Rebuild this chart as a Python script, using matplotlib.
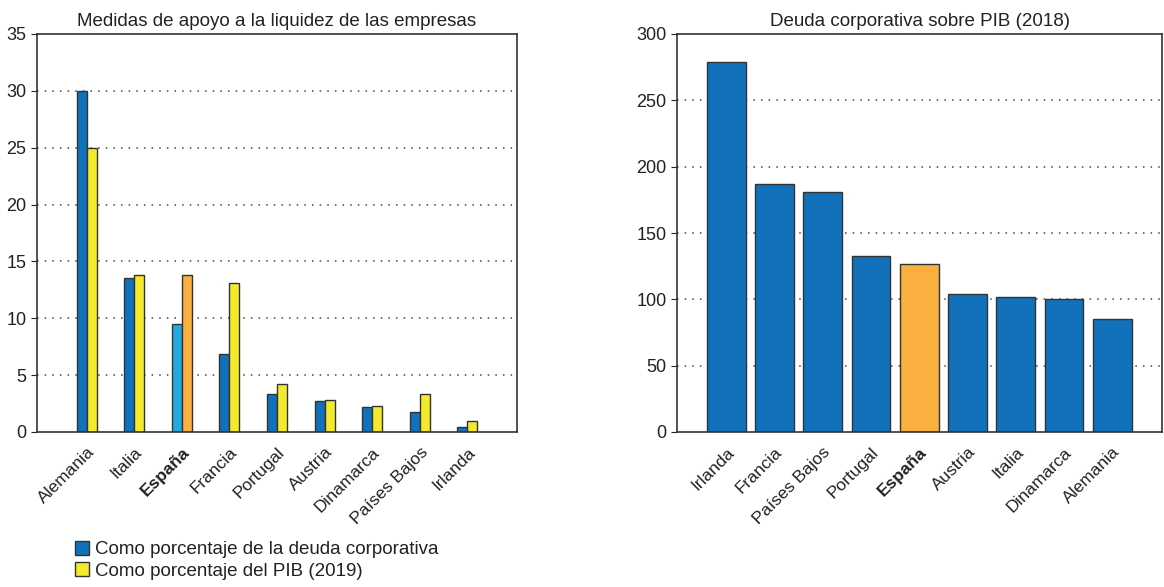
import numpy as np
import matplotlib.pyplot as plt
from matplotlib.patches import Patch

plt.rcParams['font.family'] = ['Liberation Sans', 'DejaVu Sans']

# liquidity support measures, % of corporate debt and % of GDP (2019)
paises_apoyo = ['Alemania', 'Italia', 'España', 'Francia', 'Portugal',
                'Austria', 'Dinamarca', 'Países Bajos', 'Irlanda']
pct_deuda = [30.0, 13.5, 9.5, 6.9, 3.3, 2.7, 2.2, 1.8, 0.4]
pct_pib = [25.0, 13.8, 13.8, 13.1, 4.2, 2.8, 2.3, 3.3, 1.0]

# corporate debt over GDP (2018)
paises_deuda = ['Irlanda', 'Francia', 'Países Bajos', 'Portugal', 'España',
                'Austria', 'Italia', 'Dinamarca', 'Alemania']
deuda_pib = [279, 187, 181, 133, 127, 104, 102, 100, 85]

azul = '#1172bb'
azul_claro = '#23a9e1'
amarillo = '#f3ea2d'
naranja = '#f9b041'
borde = '#333333'
texto = '#222222'

fig = plt.figure(figsize=(11.64, 5.87), dpi=100)
ax1 = fig.add_axes([37/1164, 1-432/587, 480/1164, 398/587])
ax2 = fig.add_axes([677/1164, 1-432/587, 485/1164, 398/587])


def estilo(ax, labels, ymax, step):
    ax.set_ylim(0, ymax)
    ax.set_yticks(np.arange(0, ymax + 1, step))
    for y in np.arange(step, ymax, step):
        ax.axhline(y, color='#444444', linestyle=(0, (1, 4)), linewidth=1.1, zorder=0)
    ax.set_xticks(range(len(labels)))
    ax.set_xticklabels(labels, rotation=45, ha='right', rotation_mode='anchor')
    ax.tick_params(axis='x', length=0, pad=9, labelsize=12.5, colors=texto)
    ax.tick_params(axis='y', length=4, labelsize=13, colors=texto, direction='out')
    for s in ax.spines.values():
        s.set_color('#333333')
        s.set_linewidth(1.2)
    for lbl in ax.get_xticklabels():
        if lbl.get_text() == 'España':
            lbl.set_fontweight('bold')


x1 = np.arange(len(paises_apoyo))
w = 0.21
c_deuda = [azul_claro if p == 'España' else azul for p in paises_apoyo]
c_pib = [naranja if p == 'España' else amarillo for p in paises_apoyo]
ax1.bar(x1 - w/2, pct_deuda, w, color=c_deuda, edgecolor=borde, linewidth=1, zorder=2)
ax1.bar(x1 + w/2, pct_pib, w, color=c_pib, edgecolor=borde, linewidth=1, zorder=2)
ax1.set_xlim(-1.04, len(paises_apoyo) - 1 + 1.04)
estilo(ax1, paises_apoyo, 35, 5)
ax1.set_title('Medidas de apoyo a la liquidez de las empresas', fontsize=13.5,
              color=texto, pad=6)

x2 = np.arange(len(paises_deuda))
c2 = [naranja if p == 'España' else azul for p in paises_deuda]
ax2.bar(x2, deuda_pib, 0.8, color=c2, edgecolor=borde, linewidth=1, zorder=2)
ax2.set_xlim(-1.02, len(paises_deuda) - 1 + 1.03)
estilo(ax2, paises_deuda, 300, 50)
ax2.set_title('Deuda corporativa sobre PIB (2018)', fontsize=13.5, color=texto, pad=6)

handles = [Patch(facecolor=azul, edgecolor=borde),
           Patch(facecolor=amarillo, edgecolor=borde)]
fig.legend(handles, ['Como porcentaje de la deuda corporativa',
                     'Como porcentaje del PIB (2019)'],
           loc='upper left', bbox_to_anchor=(75/1164, 1-541/587), frameon=False,
           fontsize=13.5, handlelength=0.75, handleheight=0.75, handletextpad=0.3,
           labelspacing=0.2, borderpad=0, borderaxespad=0, labelcolor=texto)

fig.savefig('out.png', dpi=100)
